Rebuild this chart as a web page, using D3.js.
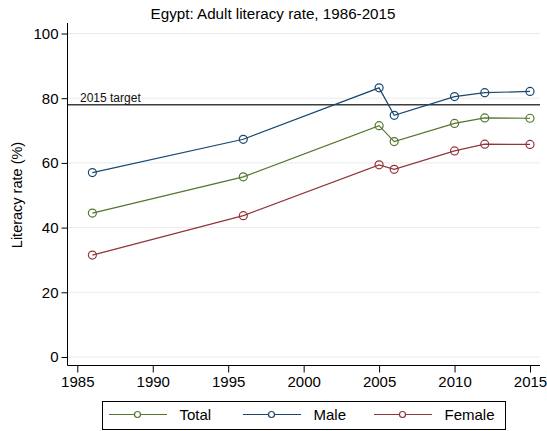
<!DOCTYPE html>
<html><head><meta charset="utf-8">
<script src="https://cdn.jsdelivr.net/npm/d3@7"></script>
<style>body{margin:0;background:#fff}svg{display:block;font-family:"Liberation Sans",Arial,sans-serif}</style>
</head><body><svg id="c" width="547" height="431"></svg>
<script>
const years = [1986, 1996, 2005, 2006, 2010, 2012, 2015];
const totalVals = [44.5, 55.7, 71.5, 66.6, 72.2, 73.9, 73.8];
const maleVals = [57.0, 67.3, 83.2, 74.7, 80.5, 81.7, 82.1];
const femaleVals = [31.5, 43.7, 59.4, 58.0, 63.7, 65.8, 65.7];
const seriesNames = ["Total", "Male", "Female"];
const seriesColors = ["#55752f", "#1a476f", "#90353b"];
const targetValue = 78;
const xTicks = [1985, 1990, 1995, 2000, 2005, 2010, 2015];
const yTicks = [0, 20, 40, 60, 80, 100];

const series = [totalVals, maleVals, femaleVals];
const svg = d3.select("#c");
const x = d3.scaleLinear().domain([1985, 2015]).range([77.3, 530]);
const y = d3.scaleLinear().domain([0, 100]).range([357, 33.5]);
const pLeft = 67.5, pRight = 540, pBottom = 365.5, pTop = 23;

// gridlines
svg.append("g").selectAll("line").data(yTicks).join("line")
  .attr("x1", pLeft).attr("x2", pRight).attr("y1", d => y(d)).attr("y2", d => y(d))
  .attr("stroke", "#eaeaea").attr("stroke-width", 1);

// target line
svg.append("line").attr("x1", pLeft).attr("x2", pRight)
  .attr("y1", y(targetValue)).attr("y2", y(targetValue))
  .attr("stroke", "#3c3c3c").attr("stroke-width", 1.5);
svg.append("text").attr("x", 80).attr("y", y(targetValue) - 2.5)
  .attr("font-size", 12).attr("fill", "#111").text("2015 target");

// axes
const yAxis = svg.append("g").attr("transform", `translate(${pLeft},0)`)
  .call(d3.axisLeft(y).tickValues(yTicks).tickSize(6).tickPadding(3));
yAxis.select(".domain").remove();
yAxis.append("line").attr("x1", 0).attr("x2", 0).attr("y1", pTop).attr("y2", pBottom).attr("stroke", "#000");
yAxis.selectAll("text").attr("font-size", 15).attr("fill", "#000").attr("font-family", "Liberation Sans, Arial, sans-serif");

const xAxis = svg.append("g").attr("transform", `translate(0,${pBottom})`)
  .call(d3.axisBottom(x).tickValues(xTicks).tickFormat(d3.format("d")).tickSize(7).tickPadding(4));
xAxis.select(".domain").remove();
xAxis.append("line").attr("x1", pLeft).attr("x2", pRight).attr("y1", 0).attr("y2", 0).attr("stroke", "#000");
xAxis.selectAll("text").attr("font-size", 15).attr("fill", "#000").attr("font-family", "Liberation Sans, Arial, sans-serif");

// lines and markers
const line = d3.line().x((d, i) => x(years[i])).y(d => y(d));
series.forEach((vals, s) => {
  svg.append("path").datum(vals).attr("d", line).attr("fill", "none")
    .attr("stroke", seriesColors[s]).attr("stroke-width", 1.2);
  svg.append("g").selectAll("circle").data(vals).join("circle")
    .attr("cx", (d, i) => x(years[i])).attr("cy", d => y(d)).attr("r", 4)
    .attr("fill", "none").attr("stroke", seriesColors[s]).attr("stroke-width", 1.2);
});

// title
svg.append("text").attr("x", 273).attr("y", 19).attr("text-anchor", "middle")
  .attr("font-size", 15.2).attr("fill", "#000").text("Egypt: Adult literacy rate, 1986-2015");

// y label
svg.append("text").attr("transform", "translate(22,195) rotate(-90)").attr("text-anchor", "middle")
  .attr("font-size", 14.5).attr("fill", "#000").text("Literacy rate (%)");

// legend
const lg = svg.append("g");
lg.append("rect").attr("x", 102.5).attr("y", 401.5).attr("width", 403).attr("height", 28)
  .attr("fill", "#fff").attr("stroke", "#000").attr("stroke-width", 1);
const legX = [109, 243, 374];
const ly = 414.5;
seriesNames.forEach((n, i) => {
  lg.append("line").attr("x1", legX[i]).attr("x2", legX[i] + 58).attr("y1", ly).attr("y2", ly)
    .attr("stroke", seriesColors[i]).attr("stroke-width", 1.2);
  lg.append("circle").attr("cx", legX[i] + 28.5).attr("cy", ly).attr("r", 3)
    .attr("fill", "#fff").attr("stroke", seriesColors[i]).attr("stroke-width", 1.2);
  lg.append("text").attr("x", legX[i] + 70.5).attr("y", ly + 5.5).attr("font-size", 15)
    .attr("fill", "#000").text(n);
});
</script></body></html>
